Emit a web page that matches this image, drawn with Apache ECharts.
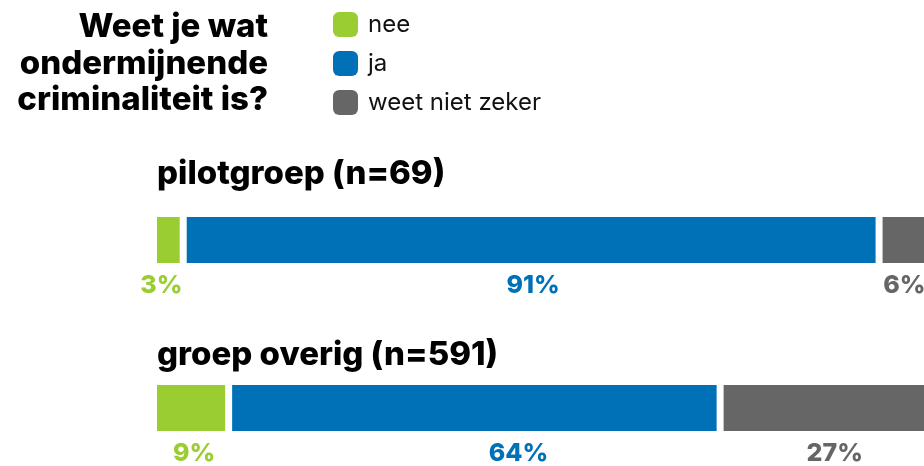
<!DOCTYPE html>
<html>
<head>
<meta charset="utf-8">
<script src="https://cdn.jsdelivr.net/npm/echarts@6/dist/echarts.min.js"></script>
<style>
	html, body { margin: 0; padding: 0; background: #fff; }
	#chart { width: 924px; height: 466px; }
</style>
</head>
<body>
<div id="chart"></div>
<script>
	var groups = ['pilotgroep (n=69)', 'groep overig (n=591)'];
	var answers = ['nee', 'ja', 'weet niet zeker'];
	var nee = [3, 9];
	var ja = [91, 64];
	var weetNiet = [6, 27];

	var colors = ['#9acd32', '#0071b6', '#666666'];
	var FONT = 'Inter';
	var GAP = 7;
	var BAR_H = 46;
	// the labels in the original are not exactly centred under their segment
	var labelShift = [[-7, 2, -1], [3, 44, 9]];

	var values = [nee, ja, weetNiet];

	function buildSeries() {
		var series = [];
		for (var k = 0; k < answers.length; k++) {
			var data = [];
			for (var i = 0; i < groups.length; i++) {
				var start = 0;
				for (var j = 0; j < k; j++) {
					start += values[j][i];
				}
				data.push([i, start, values[k][i]]);
			}
			series.push({
				name: answers[k],
				type: 'custom',
				itemStyle: { color: colors[k] },
				encode: { x: [1, 2], y: 0 },
				renderItem: (function(k) {
					return function(params, api) {
						var cat = api.value(0);
						var start = api.value(1);
						var val = api.value(2);
						var p0 = api.coord([start, cat]);
						var p1 = api.coord([start + val, cat]);
						var x = p0[0] + k * GAP;
						var w = p1[0] - p0[0];
						return {
							type: 'group',
							children: [{
								type: 'rect',
								shape: { x: x, y: p0[1] - BAR_H / 2, width: w, height: BAR_H },
								style: { fill: colors[k] }
							}, {
								type: 'text',
								style: {
									text: val + '%',
									x: x + w / 2 + labelShift[cat][k],
									y: p0[1] + 45,
									align: 'center',
									verticalAlign: 'middle',
									font: '800 25px ' + FONT,
									fill: colors[k]
								}
							}]
						};
					};
				})(k),
				data: data
			});
		}
		return series;
	}

	var option = {
		animation: false,
		grid: { left: 157, right: 10, top: 240, bottom: 58 },
		xAxis: { type: 'value', min: 0, max: 100, show: false },
		yAxis: { type: 'value', min: 0, max: 1, inverse: true, show: false },
		legend: {
			orient: 'vertical',
			left: 333,
			top: 12,
			padding: 0,
			icon: 'roundRect',
			itemWidth: 25,
			itemHeight: 25,
			itemGap: 14,
			data: answers,
			textStyle: { fontFamily: FONT, fontSize: 24, color: '#111', padding: [0, 0, 0, 5] }
		},
		graphic: [{
			type: 'text',
			style: {
				x: 268, y: 9,
				text: 'Weet je wat\nondermijnende\ncriminaliteit is?',
				align: 'right',
				verticalAlign: 'top',
				lineHeight: 36.5,
				font: '800 33px ' + FONT,
				fill: '#000'
			}
		}, {
			type: 'text',
			style: {
				x: 157, y: 174,
				text: groups[0],
				verticalAlign: 'middle',
				font: '800 33px ' + FONT,
				fill: '#000'
			}
		}, {
			type: 'text',
			style: {
				x: 157, y: 355,
				text: groups[1],
				verticalAlign: 'middle',
				font: '800 33px ' + FONT,
				fill: '#000'
			}
		}],
		series: buildSeries()
	};

	var chart = echarts.init(document.getElementById('chart'));
	chart.setOption(option);
</script>
</body>
</html>
